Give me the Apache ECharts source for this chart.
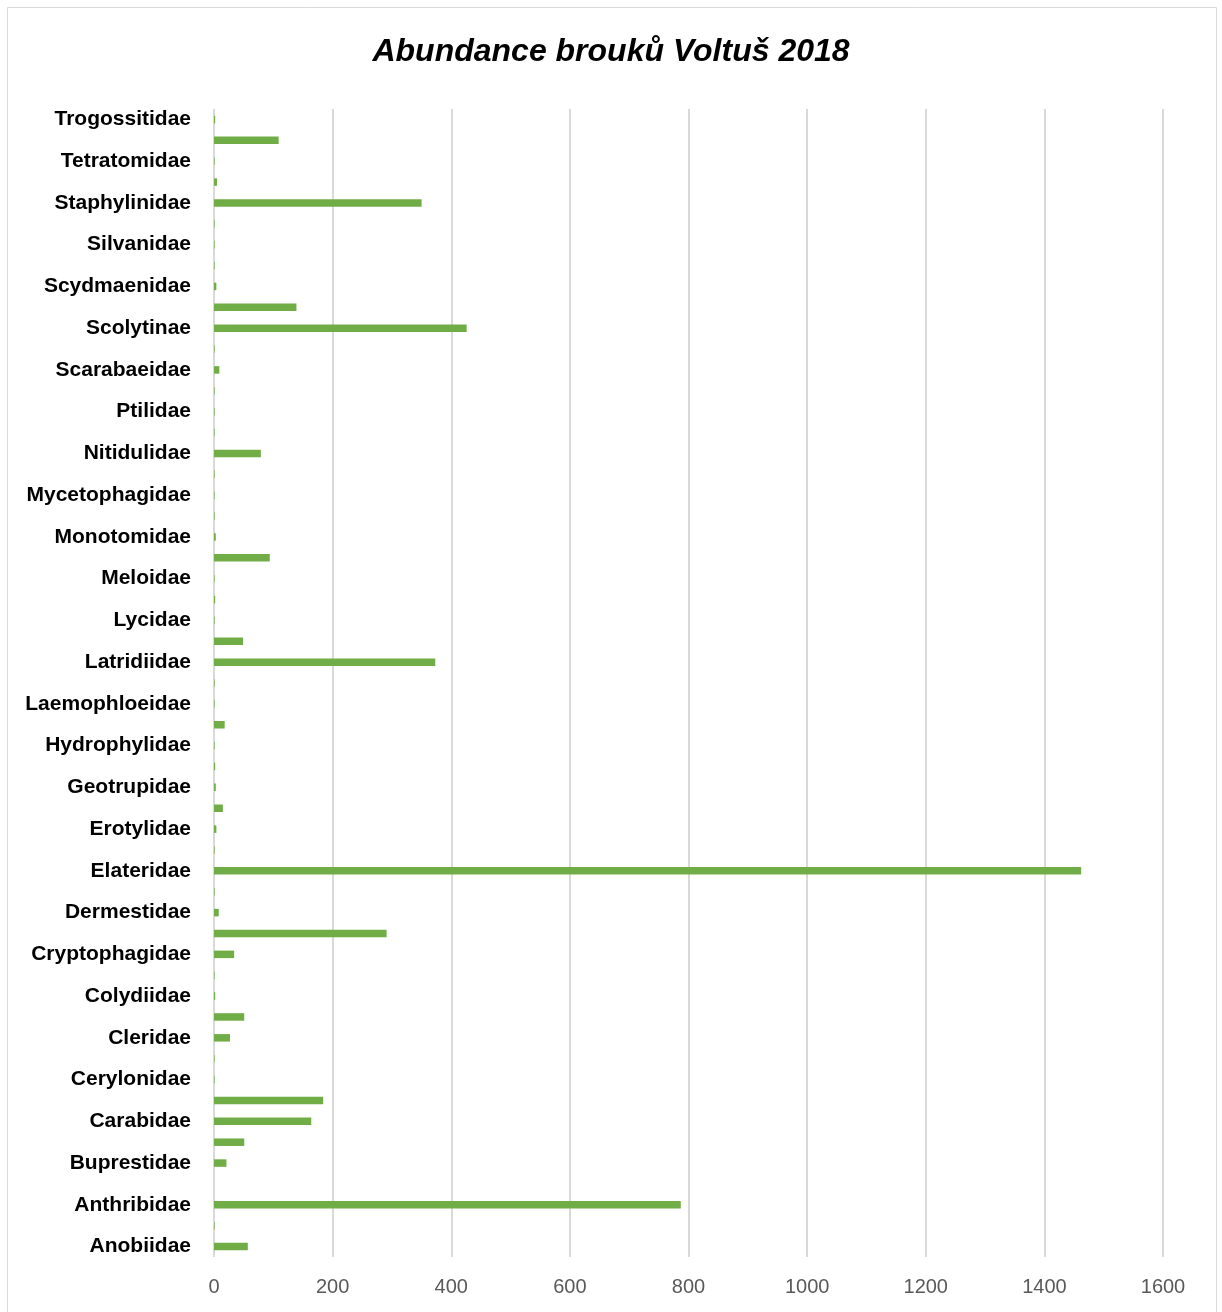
<!DOCTYPE html>
<html>
<head>
<meta charset="utf-8">
<script src="https://cdn.jsdelivr.net/npm/echarts@6/dist/echarts.min.js"></script>
<style>
html,body{margin:0;padding:0;background:#fff;}
#chart{width:1222px;height:1312px;}
</style>
</head>
<body>
<div id="chart"></div>
<script>
const categories = [
  'Anobiidae','Anthicidae','Anthribidae','Biphyllidae','Buprestidae','Cantharidae',
  'Carabidae','Cerambycidae','Cerylonidae','Ciidae','Cleridae','Coccinellidae',
  'Colydiidae','Corylophidae','Cryptophagidae','Curculionidae','Dermestidae','Drilidae',
  'Elateridae','Endomychidae','Erotylidae','Eucnemidae','Geotrupidae','Histeridae',
  'Hydrophylidae','Kateretidae','Laemophloeidae','Lampyridae','Latridiidae','Leiodidae',
  'Lycidae','Melandryidae','Meloidae','Melyridae','Monotomidae','Mordellidae',
  'Mycetophagidae','Mycteridae','Nitidulidae','Oedemeridae','Ptilidae','Pyrochroidae',
  'Scarabaeidae','Scirtidae','Scolytinae','Scraptiidae','Scydmaenidae','Silphidae',
  'Silvanidae','Sphindidae','Staphylinidae','Tenebrionidae','Tetratomidae','Throscidae',
  'Trogossitidae'
];
const abundance = [
  57, 1, 787, 0, 21, 51,
  164, 184, 1, 1, 27, 51,
  2, 1, 34, 291, 8, 1,
  1462, 1, 4, 15, 3, 2,
  1, 18, 1, 1, 373, 49,
  1, 2, 1, 94, 3, 1,
  1, 1, 79, 1, 1, 1,
  9, 1, 426, 139, 4, 1,
  1, 1, 350, 5, 1, 109,
  2
];
const titleText = 'Abundance brouků Voltuš 2018';
const xTicks = [0, 200, 400, 600, 800, 1000, 1200, 1400, 1600];

const chart = echarts.init(document.getElementById('chart'), null, {renderer: 'canvas'});
chart.setOption({
  backgroundColor: '#ffffff',
  animation: false,
  title: {
    text: titleText,
    left: 'center',
    top: 31,
    textStyle: {
      fontFamily: 'Liberation Sans',
      fontSize: 32,
      fontWeight: 'bold',
      fontStyle: 'italic',
      color: '#000000'
    }
  },
  graphic: [{
    type: 'rect',
    shape: {x: 7.5, y: 7.5, width: 1209, height: 1330},
    style: {fill: 'none', stroke: '#d9d9d9', lineWidth: 1},
    silent: true
  }],
  grid: {left: 214, right: 59, top: 109, bottom: 55, containLabel: false},
  xAxis: {
    type: 'value',
    min: xTicks[0],
    max: xTicks[xTicks.length - 1],
    interval: 200,
    axisLine: {show: false},
    axisTick: {show: false},
    splitLine: {show: true, lineStyle: {color: '#d9d9d9', width: 2}},
    axisLabel: {
      margin: 20,
      fontFamily: 'Liberation Sans',
      fontSize: 20,
      color: '#595959',
      formatter: function (v) { return String(v); }
    }
  },
  yAxis: {
    type: 'category',
    data: categories,
    axisLine: {show: false},
    axisTick: {show: false},
    splitLine: {show: false},
    axisLabel: {
      interval: 1,
      margin: 23,
      fontFamily: 'Liberation Sans',
      fontSize: 21,
      fontWeight: 'bold',
      color: '#000000'
    }
  },
  series: [{
    type: 'bar',
    data: abundance,
    barWidth: 7.5,
    itemStyle: {color: '#70AD47'}
  }]
});
</script>
</body>
</html>
